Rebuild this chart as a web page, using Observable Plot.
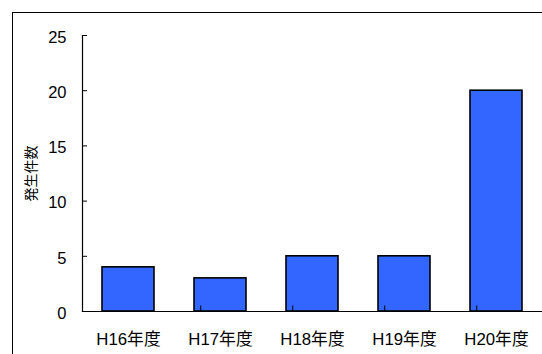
<!DOCTYPE html>
<html>
<head>
<meta charset="utf-8">
<script src="https://cdn.jsdelivr.net/npm/d3@7"></script>
<script src="https://cdn.jsdelivr.net/npm/@observablehq/plot@0.6"></script>
<style>
  html, body { margin: 0; padding: 0; background: #fff; overflow: hidden; width: 542px; height: 354px; }
  #wrap { position: relative; width: 542px; height: 354px; overflow: hidden; }
  #border { position: absolute; left: 12px; top: 12px; width: 600px; height: 400px; border: 1.3px solid #000; box-sizing: border-box; }
  #chart { position: absolute; left: 0; top: 0; }
</style>
</head>
<body>
<div id="wrap">
  <div id="border"></div>
  <div id="chart"></div>
</div>
<script>
const categories = ["H16年度", "H17年度", "H18年度", "H19年度", "H20年度"];
const values = [4, 3, 5, 5, 20];
const yTicks = [0, 5, 10, 15, 20, 25];
const yLabel = "発生件数";

const data = categories.map((c, i) => ({category: c, value: values[i]}));

const W = 542, H = 354;
const mL = 82, mR = 0, mT = 35, mB = 43;
const padInner = 0.43;
const step = (W - mL - mR) / categories.length;
const yMax = 25;
const tickLen = 5.5;
const tickData = tickLen * yMax / (H - mT - mB);
const font = "'Liberation Sans', Arial, 'Noto Sans CJK JP', sans-serif";

const chart = Plot.plot({
  width: W,
  height: H,
  marginLeft: mL,
  marginRight: mR,
  marginTop: mT,
  marginBottom: mB,
  style: {fontFamily: font, fontSize: "16px", color: "#000", background: "transparent", overflow: "visible"},
  x: {domain: categories, paddingInner: padInner, paddingOuter: padInner / 2},
  y: {domain: [0, yMax], ticks: yTicks},
  marks: [
    Plot.barY(data, {x: "category", y: "value", fill: "#3366FF", stroke: "#000", strokeWidth: 1.6}),
    // ruleX on a band scale sits at the band start; shift back by half the gap to reach the category boundary
    Plot.ruleX(categories.slice(1), {x: d => d, y1: 0, y2: tickData, dx: -step * padInner / 2, stroke: "#000", strokeWidth: 1}),
    Plot.frame({anchor: "left", stroke: "#000", strokeWidth: 1.2}),
    Plot.frame({anchor: "bottom", stroke: "#000", strokeWidth: 1.2}),
    Plot.axisY({ticks: yTicks, tickSize: -5, tickFormat: () => "", label: null, strokeWidth: 1}),
    Plot.axisY({ticks: yTicks, tickSize: 0, tickPadding: 16, fontSize: 16.5, dy: 2, label: null}),
    Plot.axisY({ticks: [], tickSize: 0, label: yLabel, labelAnchor: "center", labelOffset: 56, labelArrow: "none"}),
    Plot.axisX({tickSize: 0, tickPadding: 21.5, fontSize: 16.8, label: null})
  ]
});
document.getElementById("chart").appendChild(chart);
chart.querySelectorAll("text").forEach(t => {
  if (t.textContent === yLabel) t.setAttribute("font-size", "14");
});
</script>
</body>
</html>
